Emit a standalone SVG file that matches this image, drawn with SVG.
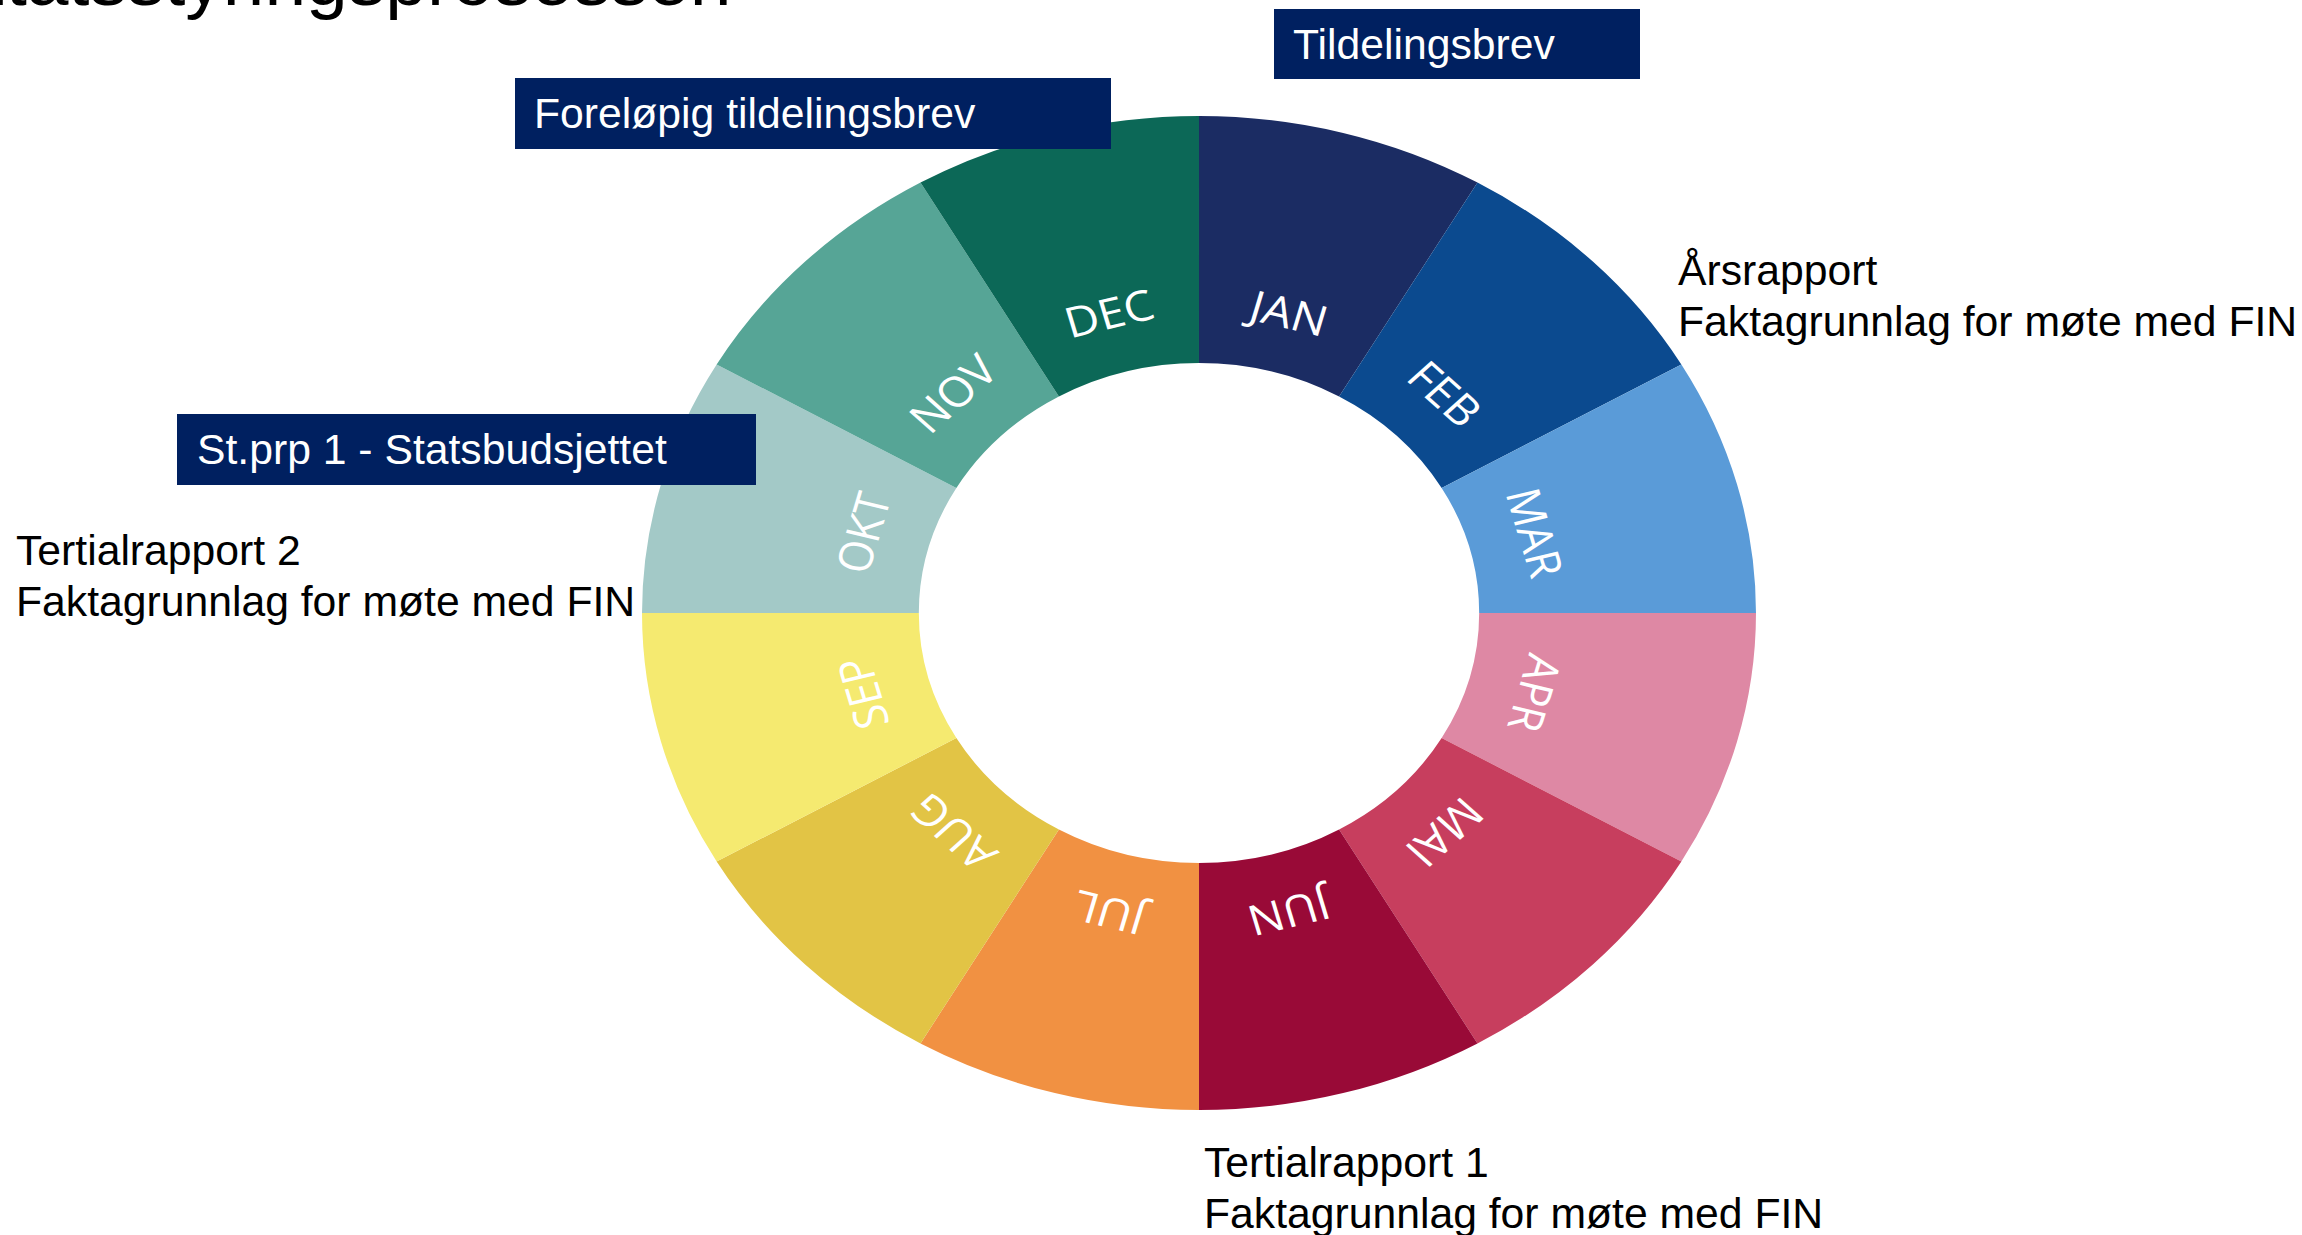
<svg xmlns="http://www.w3.org/2000/svg" width="2302" height="1235" viewBox="0 0 2302 1235">
  <defs>
    <style>
      .note { font-family: "Liberation Sans", Arial, sans-serif; font-size: 42.7px; fill: #000000; }
      .tag-box { fill: #002060; }
      .tag-text { font-family: "Liberation Sans", Arial, sans-serif; font-size: 42.7px; fill: #ffffff; }
      .month { font-family: "Open Sans", "Noto Sans", sans-serif; font-size: 42px; fill: #ffffff; text-anchor: middle; }
      .title { font-family: "Liberation Sans", Arial, sans-serif; font-size: 75px; fill: #000000; }
    </style>
    <!-- one 30-degree ring sector, starting at 12 o'clock and running clockwise -->
    <path id="sector" d="M 0 -497 A 497 497 0 0 1 248.5 -430.41 L 125 -216.51 A 250 250 0 0 0 0 -250 Z"/>
  </defs>

  <rect width="2302" height="1235" fill="#ffffff"/>

  <!-- page heading, mostly above the top edge -->
  <text class="title" x="-44" y="5">Etatsstyringsprosessen</text>

  <!-- year wheel: drawn on a circle, widened horizontally -->
  <g id="wheel" transform="translate(1199,613) scale(1.1207,1)">
    <g id="m-jan"><use href="#sector" fill="#1b2c63" transform="rotate(0)"/><text class="month" transform="rotate(15)" x="0" y="-295">JAN</text></g>
    <g id="m-feb"><use href="#sector" fill="#0b4a8f" transform="rotate(30)"/><text class="month" transform="rotate(45)" x="0" y="-295">FEB</text></g>
    <g id="m-mar"><use href="#sector" fill="#5a9bd8" transform="rotate(60)"/><text class="month" transform="rotate(75)" x="0" y="-295">MAR</text></g>
    <g id="m-apr"><use href="#sector" fill="#de88a4" transform="rotate(90)"/><text class="month" transform="rotate(105)" x="0" y="-295">APR</text></g>
    <g id="m-mai"><use href="#sector" fill="#c73e5e" transform="rotate(120)"/><text class="month" transform="rotate(135)" x="0" y="-295">MAI</text></g>
    <g id="m-jun"><use href="#sector" fill="#990a37" transform="rotate(150)"/><text class="month" transform="rotate(165)" x="0" y="-295">JUN</text></g>
    <g id="m-jul"><use href="#sector" fill="#f19142" transform="rotate(180)"/><text class="month" transform="rotate(195)" x="0" y="-295">JUL</text></g>
    <g id="m-aug"><use href="#sector" fill="#e2c445" transform="rotate(210)"/><text class="month" transform="rotate(225)" x="0" y="-295">AUG</text></g>
    <g id="m-sep"><use href="#sector" fill="#f5ea70" transform="rotate(240)"/><text class="month" transform="rotate(255)" x="0" y="-295">SEP</text></g>
    <g id="m-okt"><use href="#sector" fill="#a3c9c7" transform="rotate(270)"/><text class="month" transform="rotate(285)" x="0" y="-295">OKT</text></g>
    <g id="m-nov"><use href="#sector" fill="#56a596" transform="rotate(300)"/><text class="month" transform="rotate(315)" x="0" y="-295">NOV</text></g>
    <g id="m-dec"><use href="#sector" fill="#0c6857" transform="rotate(330)"/><text class="month" transform="rotate(345)" x="0" y="-295">DEC</text></g>
  </g>

  <!-- highlighted milestones -->
  <g id="tildelingsbrev">
    <rect class="tag-box" x="1274" y="9" width="366" height="70"/>
    <text class="tag-text" x="1293" y="59">Tildelingsbrev</text>
  </g>
  <g id="forelopig-tildelingsbrev">
    <rect class="tag-box" x="515" y="78" width="596" height="71"/>
    <text class="tag-text" x="534" y="128">Foreløpig tildelingsbrev</text>
  </g>
  <g id="statsbudsjettet">
    <rect class="tag-box" x="177" y="414" width="579" height="71"/>
    <text class="tag-text" x="197" y="464">St.prp 1 - Statsbudsjettet</text>
  </g>

  <!-- reporting notes -->
  <g id="arsrapport">
    <text class="note" x="1678" y="285">Årsrapport</text>
    <text class="note" x="1678" y="336">Faktagrunnlag for møte med FIN</text>
  </g>
  <g id="tertialrapport-1">
    <text class="note" x="1204" y="1177">Tertialrapport 1</text>
    <text class="note" x="1204" y="1228">Faktagrunnlag for møte med FIN</text>
  </g>
  <g id="tertialrapport-2">
    <text class="note" x="16" y="565">Tertialrapport 2</text>
    <text class="note" x="16" y="616">Faktagrunnlag for møte med FIN</text>
  </g>

  <g id="connectors"/>
</svg>
